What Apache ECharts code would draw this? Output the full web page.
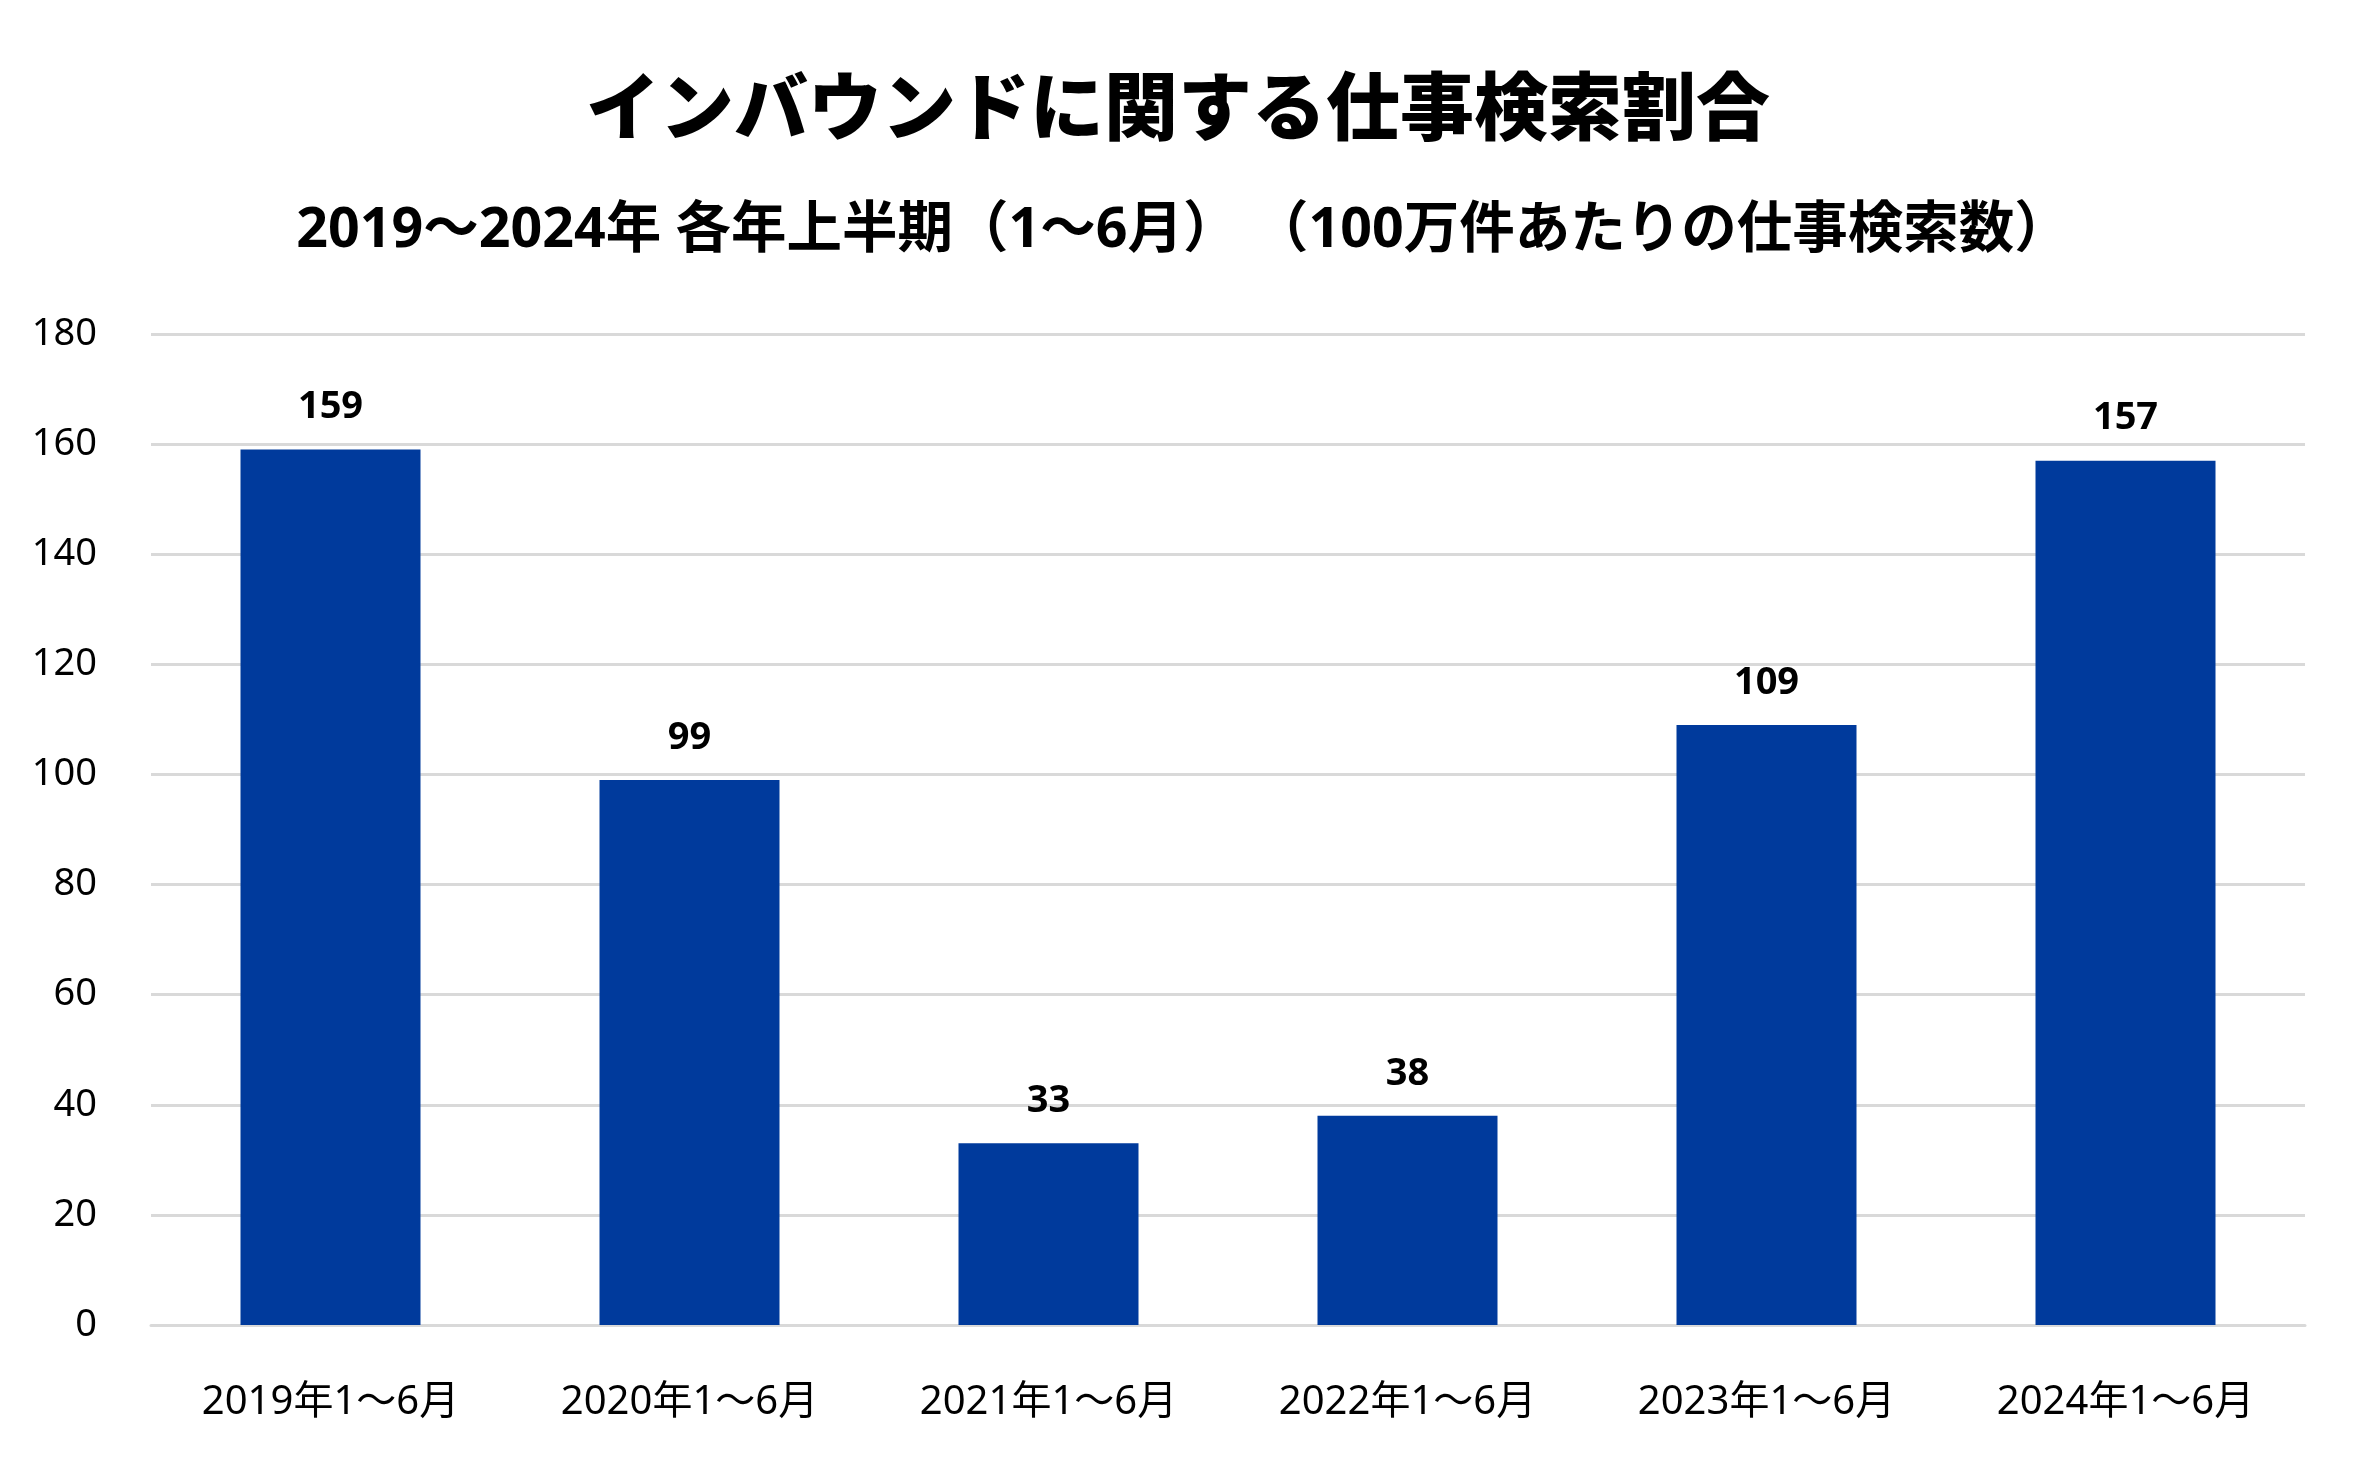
<!DOCTYPE html>
<html>
<head>
<meta charset="utf-8">
<script src="https://cdn.jsdelivr.net/npm/echarts@6/dist/echarts.min.js"></script>
<style>
html,body{margin:0;padding:0;background:#fff;}
#c{width:2356px;height:1464px;}
</style>
</head>
<body>
<div id="c"></div>
<script>
const titleText = 'インバウンドに関する仕事検索割合';
const subtitleText = '2019～2024年 各年上半期（1～6月） （100万件あたりの仕事検索数）';
const categories = ['2019年1～6月','2020年1～6月','2021年1～6月','2022年1～6月','2023年1～6月','2024年1～6月'];
const values = [159, 99, 33, 38, 109, 157];
const yTicks = [0, 20, 40, 60, 80, 100, 120, 140, 160, 180];

const chart = echarts.init(document.getElementById('c'));
const font = '"Noto Sans CJK JP", "Noto Sans", sans-serif';
const latinFont = '"Noto Sans", "Noto Sans CJK JP", sans-serif';
chart.setOption({
  backgroundColor: '#ffffff',
  animation: false,
  title: [
    {
      text: titleText,
      left: 'center',
      top: 64,
      textStyle: {fontFamily: font, fontWeight: 900, fontSize: 74, color: '#000'}
    },
    {
      text: subtitleText,
      left: 1178, textAlign: 'center',
      top: 198,
      textStyle: {fontFamily: latinFont, fontWeight: 'bold', fontSize: 55.5, color: '#000'}
    }
  ],
  grid: {left: 151, right: 51, top: 334, bottom: 139},
  xAxis: {
    type: 'category',
    data: categories,
    axisLine: {show: true, lineStyle: {color: '#d9d9d9', width: 3}},
    axisTick: {show: false},
    axisLabel: {fontFamily: latinFont, fontSize: 40, color: '#000', margin: 58}
  },
  yAxis: {
    type: 'value',
    min: yTicks[0],
    max: yTicks[yTicks.length - 1],
    interval: 20,
    axisLine: {show: false},
    axisTick: {show: false},
    splitLine: {lineStyle: {color: '#d9d9d9', width: 3}},
    axisLabel: {fontFamily: latinFont, fontSize: 38, color: '#000', margin: 54}
  },
  series: [{
    type: 'bar',
    data: values,
    barWidth: 180,
    itemStyle: {color: '#003A9C'},
    label: {
      show: true,
      position: 'top',
      distance: 23,
      fontFamily: latinFont,
      fontWeight: 'bold',
      fontSize: 38,
      color: '#000'
    }
  }]
});
</script>
</body>
</html>
